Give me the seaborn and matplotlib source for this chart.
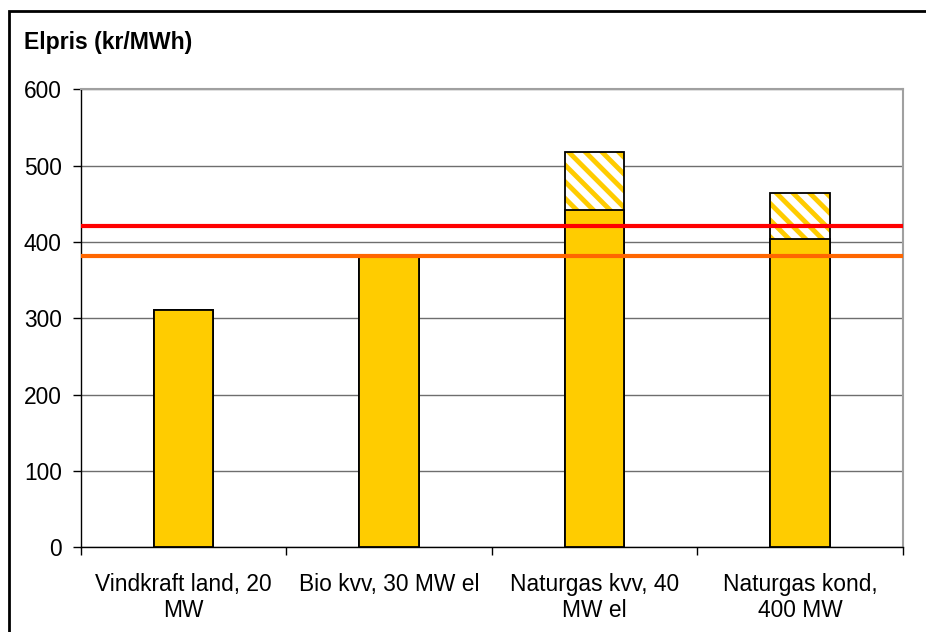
import matplotlib
matplotlib.use("Agg")
import matplotlib.pyplot as plt
import seaborn as sns
import pandas as pd
from matplotlib.patches import Rectangle

categories = ["Vindkraft land, 20\nMW", "Bio kvv, 30 MW el", "Naturgas kvv, 40\nMW el", "Naturgas kond,\n400 MW"]
base_values = [311, 383, 442, 404]
total_values = [311, 383, 518, 464]
red_level = 421
orange_level = 382
y_ticks = [0, 100, 200, 300, 400, 500, 600]
title = "Elpris (kr/MWh)"

sns.set_theme(style="white")
plt.rcParams['font.family'] = ['Liberation Sans', 'DejaVu Sans']
plt.rcParams['hatch.linewidth'] = 3.5
plt.rcParams['text.color'] = 'black'

df = pd.DataFrame({"cat": categories, "base": base_values, "total": total_values})

W, H = 926, 632
fig = plt.figure(figsize=(W / 100, H / 100), dpi=100)
ax = fig.add_axes([81 / W, 1 - 547.3 / H, (902.7 - 81) / W, (547.3 - 89.3) / H])

yellow = "#FFCC00"
bw = 0.29
fs = 16.4
# hatched totals
sns.barplot(data=df, x="cat", y="total", ax=ax, width=bw, color="white",
            edgecolor=yellow, linewidth=0, saturation=1, zorder=2, errorbar=None)
for p in ax.patches:
    p.set_facecolor("white")
    p.set_edgecolor(yellow)
    p.set_hatch("\\\\")
    p.set_linewidth(0)
# outlines of totals
sns.barplot(data=df, x="cat", y="total", ax=ax, width=bw, fill=False,
            edgecolor="black", linewidth=1.3, zorder=3, errorbar=None)
# solid bases
sns.barplot(data=df, x="cat", y="base", ax=ax, width=bw, color=yellow,
            edgecolor="black", linewidth=1.3, saturation=1, zorder=4, errorbar=None)

ax.axhline(red_level, color="#FF0000", lw=3, zorder=6)
ax.axhline(orange_level, color="#FF6600", lw=3, zorder=6)

ax.set_xlim(-0.5, len(categories) - 0.5)
ax.set_ylim(0, 600)
ax.set_yticks(y_ticks)
ax.set_yticklabels([str(v) for v in y_ticks], fontsize=fs, color="black")
ax.set_xticks(range(len(categories)))
ax.set_xticklabels(categories, fontsize=fs, color="black", linespacing=1.15)
ax.set_xticks([i - 0.5 for i in range(len(categories) + 1)], minor=True)
ax.tick_params(axis="x", which="major", length=0, pad=18.5)
ax.tick_params(axis="x", which="minor", length=5.5, width=1, color="black", direction="out", bottom=True)
ax.tick_params(axis="y", which="major", length=5.8, width=1, color="black", direction="out", pad=8, left=True)
ax.set_xlabel("")
ax.set_ylabel("")

ax.yaxis.grid(True, color="#6e6e6e", lw=1)
ax.set_axisbelow(True)
for s in ["left", "bottom"]:
    ax.spines[s].set_color("black")
    ax.spines[s].set_linewidth(1)
for s in ["top", "right"]:
    ax.spines[s].set_color("#a0a0a0")
    ax.spines[s].set_linewidth(1.5)

fig.text(24 / W, 1 - 49 / H, title, fontsize=16.6, fontweight="bold", va="baseline", ha="left", color="black")

fig.patches.append(Rectangle((9 / W, -0.1), 1.2, 1 - 11 / H + 0.1, transform=fig.transFigure,
                             fill=False, edgecolor="black", lw=2, zorder=0))

fig.savefig("out.png", dpi=100)
